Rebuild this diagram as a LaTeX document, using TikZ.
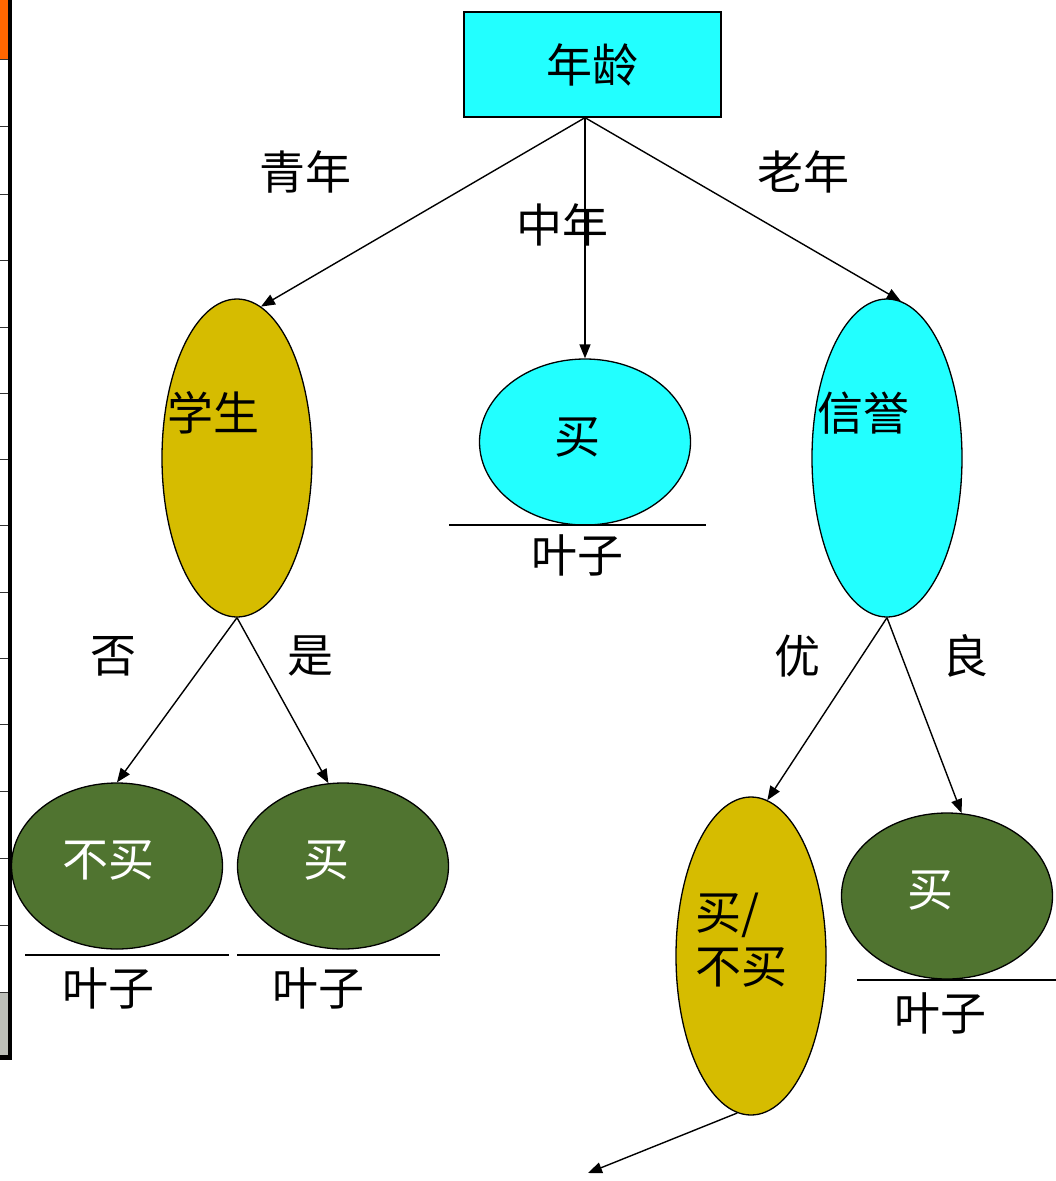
\documentclass[tikz,border=0pt]{standalone}
\usepackage{fontspec}
\newfontfamily\cjk{Noto Sans CJK SC}
\usetikzlibrary{arrows.meta,shapes.geometric}
\definecolor{aqua}{RGB}{34,255,255}
\definecolor{mustard}{RGB}{214,188,0}
\definecolor{leafgreen}{RGB}{80,116,48}
\definecolor{tabgray}{RGB}{188,190,184}
\definecolor{taborange}{RGB}{255,102,0}

\begin{document}
\begin{tikzpicture}[x=1pt,y=-1pt,
font=\cjk\fontsize{46}{54}\selectfont,
oval/.style={draw,ellipse,inner sep=0pt,line width=1.3pt},
tall/.style={oval,minimum width=150pt,minimum height=318pt,fill=mustard},
flat/.style={oval,minimum width=211pt,minimum height=166pt,fill=leafgreen},
arr/.style={-{Triangle[length=14pt,width=11pt]},line width=1.4pt},
leaf/.style={line width=1.3pt},
lbl/.style={inner sep=0pt}]
\useasboundingbox[fill=white] (0,0) rectangle (1056,1181);
\fill[taborange] (0,0) rectangle (8,59);
\fill[tabgray] (0,992) rectangle (8,1056);
\foreach \y in {59,126,194,260,327,393,459,525,592,658,724,791,858,925,992}
  \draw[line width=1pt,black!80] (0,\y) -- (8,\y);
\fill[black] (7.5,0) rectangle (12,1060);
\fill[black] (0,1055) rectangle (12,1060);
\node[draw,fill=aqua,line width=1.3pt,minimum width=257pt,minimum height=105pt] (age) at (592.5,64.5) {年龄};
\node[tall,label={[lbl,shift={(-24,-45)}]center:学生}] (student) at (237,458) {};
\node[flat,fill=aqua,label={[lbl,shift={(-8,-5)}]center:买}] (mid) at (585,442) {};
\node[tall,fill=aqua,label={[lbl,shift={(-24,-45)}]center:信誉}] (credit) at (887,458) {};
\node[flat,label={[lbl,text=white,shift={(-9,-6)}]center:不买}] (nobuy) at (117,866) {};
\node[flat,label={[lbl,text=white,shift={(-17,-6)}]center:买}] (buyyes) at (343,866) {};
\node[tall,label={[lbl,align=left,shift={(-10,-16)}]center:买/\\不买}] (maybe) at (751,956) {};
\node[flat,label={[lbl,text=white,shift={(-17,-6)}]center:买}] (buygood) at (947,896) {};
\coordinate (fork) at (mid.north |- age.south);
\coordinate (lost) at (588,1173);
\draw[arr] (fork) -- (student.81);
\draw[arr] (fork) -- (mid.north);
\draw[arr] (fork) -- (credit.85);
\draw[arr] (student.south) -- (nobuy.north);
\draw[arr] (student.south) -- (buyyes.100);
\draw[arr] (credit.south) -- (maybe.84);
\draw[arr] (credit.south) -- (buygood.80);
\draw[arr] (maybe.265) -- (lost);
\node[lbl] (young) at (305,172) {青年};
\node[lbl] (middle) at (562,225) {中年};
\node[lbl] (old) at (803,172) {老年};
\node[lbl] (no) at (113,656) {否};
\node[lbl] (yes) at (310,656) {是};
\node[lbl] (excellent) at (797,656) {优};
\node[lbl] (fair) at (965,656) {良};
\draw[leaf] (449,525) -- (706,525);
\node[lbl] (leafmid) at (577,555) {叶子};
\draw[leaf] (25,955) -- (229,955);
\node[lbl] (leafno) at (108,988) {叶子};
\draw[leaf] (237,955) -- (440,955);
\node[lbl] (leafyes) at (318,988) {叶子};
\draw[leaf] (857,980) -- (1056,980);
\node[lbl] (leafgood) at (940,1013) {叶子};
\end{tikzpicture}
\end{document}
